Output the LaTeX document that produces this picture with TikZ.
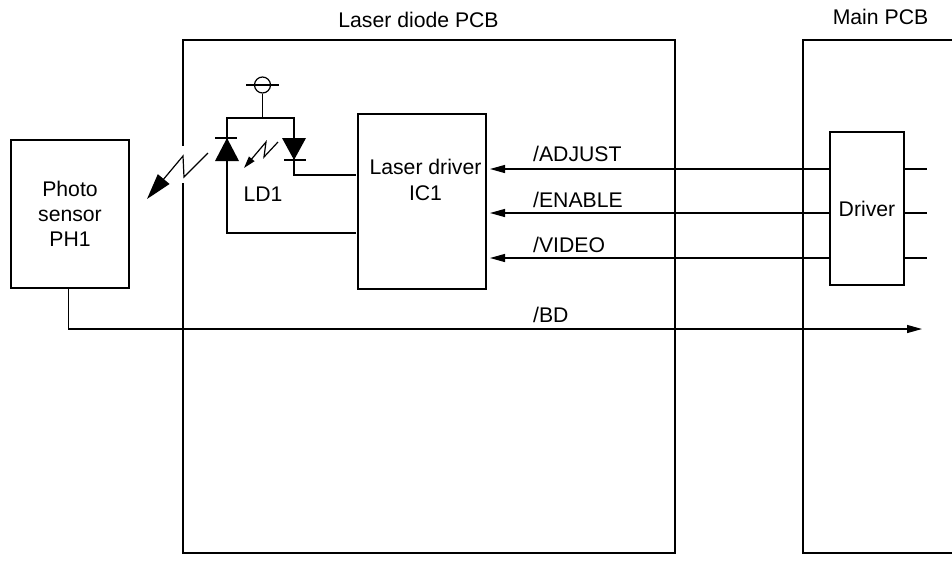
\documentclass[tikz,border=0pt]{standalone}
\usepackage{fontspec}
\setmainfont{Liberation Sans}
\usetikzlibrary{arrows.meta,positioning}

\begin{document}
\begin{tikzpicture}[x=1pt,y=-1pt,
          pcb/.style={rectangle,draw,line width=2pt,inner sep=0pt},
          block/.style={rectangle,draw,line width=1.2pt,inner sep=0pt,align=center,font=\fontsize{21.2}{25.2}\selectfont},
          title/.style={font=\fontsize{21.2}{25}\selectfont,inner sep=0pt},
          sig/.style={font=\fontsize{21.2}{25}\selectfont,inner sep=0pt,anchor=base west},
          wire/.style={draw,line width=1.2pt},
          feed/.style={wire,-{Triangle[length=15pt,width=8pt]}},
          light/.style={draw,line width=1.2pt,miter limit=20}]
        \useasboundingbox (0,0) rectangle (952,560);
        % boards
        \node[pcb,minimum width=492pt,minimum height=513pt] (laserpcb) at (429,296.5) {};
        \draw[line width=2pt] (952,40) -- (803,40) -- (803,553) -- (952,553);
        \node[title] (lasertitle) at (418.5,19.5) {Laser diode PCB};
        \node[title] (maintitle) at (880.5,16.5) {Main PCB};
        % blocks
        \node[block,minimum width=118pt,minimum height=148pt] (photo) at (70,214) {Photo\\sensor\\PH1};
        \node[block,minimum width=128pt,minimum height=175pt] (icone) at (422,201.5) {};
        \node[block,draw=none] (icname) at (425.5,180) {Laser driver\\IC1};
        \node[block,minimum width=74pt,minimum height=153pt] (driver) at (867,208.5) {Driver};
        % signals
        \foreach \y/\b/\t in {169/161.3/ADJUST,213/207.3/ENABLE,258/252.7/VIDEO} {
          \coordinate (in\t) at (490,\y);
          \coordinate (out\t) at (927,\y);
          \draw[feed] (driver.west |- in\t) -- (in\t);
          \draw[wire] (driver.east |- out\t) -- (out\t);
          \node[sig] (lbl\t) at (533,\b) {/\t};
        }
        \coordinate (bdend) at (922,329);
        \draw[feed] (photo.south -| 68.5,0) |- (bdend);
        \node[sig] (lblBD) at (533,322.7) {/BD};
        % diodes
        \coordinate (vcc) at (262.5,85);
        \coordinate (top) at (262.5,118);
        \coordinate (ldleft) at (227,138);
        \coordinate (ldright) at (294,160);
        \coordinate (icupper) at (356,175);
        \coordinate (iclower) at (356,233);
        \node[circle,draw,line width=1.2pt,minimum size=16pt,inner sep=0pt] (ring) at (vcc) {};
        \draw[wire] (246,85) -- (279,85);
        \draw[wire] (ring.south) -- (top);
        \draw[wire] (ldleft) |- (top) -| (ldright);
        \draw[wire] (ldleft) |- (iclower);
        \draw[wire] (ldright) |- (icupper);
        \fill (ldleft) -- (215,161) -- (239,161) -- cycle;
        \fill (ldright) -- (282,138) -- (306,138) -- cycle;
        \draw[wire] (215,138) -- (237,138);
        \draw[wire] (284,160) -- (306,160);
        \node[block,draw=none] (ldone) at (263,194.5) {LD1};
        % light
        \fill[white] (176,146) rectangle (190,183);
        \draw[light,-{Triangle[length=26pt,width=15pt]}] (208,153) -- (184,177) -- (183,156) -- (147,199);
        \draw[light,-{Triangle[length=12pt,width=7pt]}] (278,142) -- (264,157) -- (266,142) -- (244,168);
\end{tikzpicture}
\end{document}
